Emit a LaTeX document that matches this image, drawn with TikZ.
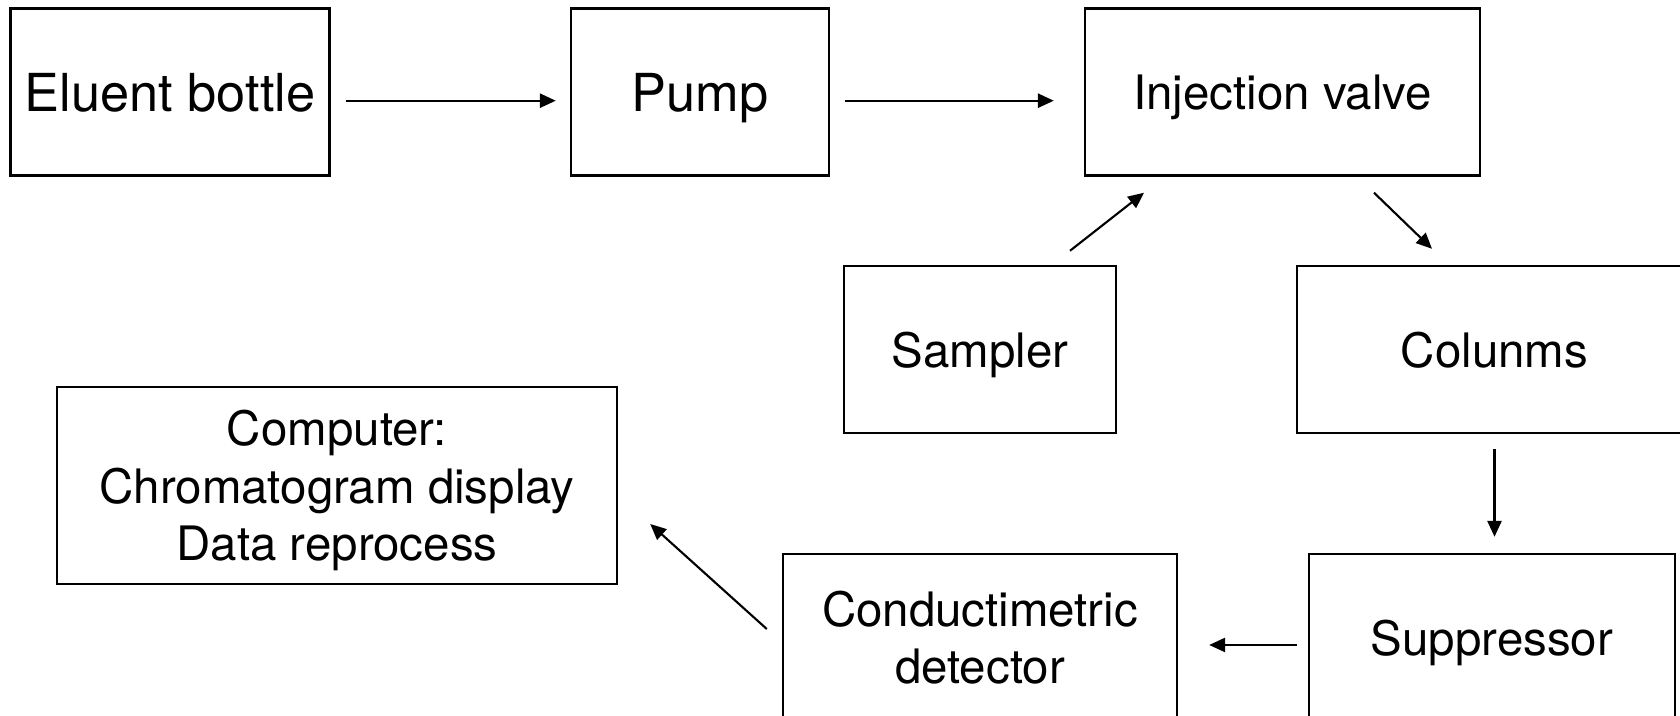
\documentclass[tikz,border=0pt]{standalone}
\usepackage{fontspec}
\setmainfont{TeX Gyre Heros}
\usetikzlibrary{positioning, arrows.meta}

\tikzset{
    unit/.style={draw, line width=0.7pt, inner sep=0pt, minimum height=1.67cm, text depth=0pt, align=center, font=\fontsize{13.5}{16.3}\selectfont},
    bigunit/.style={unit, font=\fontsize{14.9}{17}\selectfont},
    flow/.style={-{Triangle[length=4.5pt, width=4pt]}, line width=0.6pt},
}

\begin{document}
\begin{tikzpicture}

\clip (0,0) rectangle (16.8,7.16);
\useasboundingbox (0,0) rectangle (16.8,7.16);

% top row
\node[bigunit, minimum width=3.19cm] (elu) at (1.70, 6.24) {Eluent bottle};
\node[bigunit, minimum width=2.58cm] (pump) at (7.00, 6.24) {Pump};
\node[unit, minimum width=3.95cm] (inj) at (12.825, 6.24) {Injection valve};

% middle row
\node[unit, minimum width=2.72cm] (sam) at (9.80, 3.665) {Sampler};
\node[unit, minimum width=3.95cm] (col) at (14.945, 3.665) {Colunms};
\node[unit, minimum width=5.60cm, minimum height=1.97cm] (comp) at (3.37, 2.305) {Computer:\\Chromatogram display\\Data reprocess};

% bottom row
\node[unit, minimum width=3.94cm] (det) at (9.80, 0.785) {Conductimetric\\detector};
\node[unit, minimum width=3.66cm] (sup) at (14.92, 0.785) {Suppressor};

% flow path
\draw[flow] ([xshift=0.15cm, yshift=-0.087cm]elu.east) -- ([xshift=-0.14cm, yshift=-0.087cm]pump.west);
\draw[flow] ([xshift=0.15cm, yshift=-0.087cm]pump.east) -- ([xshift=-0.30cm, yshift=-0.087cm]inj.west);
\draw[flow] ([xshift=0.90cm, yshift=0.14cm]sam.north) -- ([xshift=-1.385cm, yshift=-0.16cm]inj.south);
\draw[flow] ([xshift=0.915cm, yshift=-0.16cm]inj.south) -- ([xshift=-0.625cm, yshift=0.16cm]col.north);
\draw[flow] ([yshift=-0.15cm]col.south) -- ([yshift=0.16cm]col.south |- sup.north);
\draw[flow] ([xshift=-0.11cm, yshift=-0.075cm]sup.west) -- ([xshift=0.31cm, yshift=-0.075cm]det.east);
\draw[flow] ([xshift=-0.15cm, yshift=0.085cm]det.west) -- ([xshift=0.32cm, yshift=-0.385cm]comp.east);

\end{tikzpicture}
\end{document}
